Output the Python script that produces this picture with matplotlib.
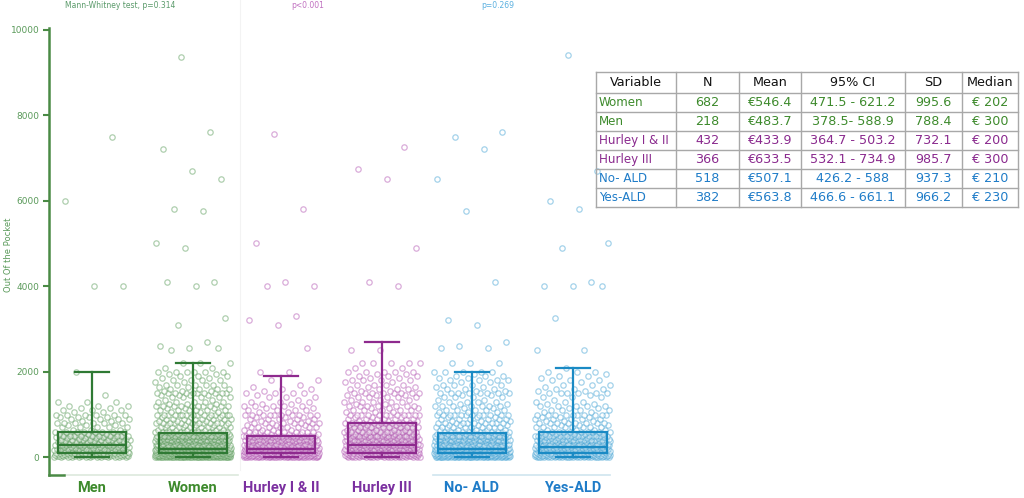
import numpy as np
import matplotlib
matplotlib.use("Agg")
import matplotlib.pyplot as plt
from matplotlib.lines import Line2D

# ---------------- data ----------------
categories = ["Men", "Women", "Hurley I & II", "Hurley III", "No- ALD", "Yes-ALD"]

# box statistics
box_q1 = [100, 100, 100, 100, 100, 100]
box_med = [300, 200, 200, 300, 200, 230]
box_q3 = [600, 570, 500, 800, 560, 600]
box_whishi = [2000, 2200, 1900, 2700, 2000, 2100]
box_whislo = [0, 0, 0, 0, 0, 0]

# value grid of the dense point clouds, with estimated counts per group
cloud_vals = [0, 10, 20, 30, 40, 50, 60, 70, 80, 90,
              100, 120, 130, 150, 170, 200, 220, 250, 280, 300,
              320, 350, 380, 400, 420, 450, 480, 500, 550, 600,
              650, 700, 750, 800, 850, 900, 950, 1000, 1050, 1100,
              1150, 1200, 1250, 1300, 1350, 1400, 1450, 1500, 1550, 1600,
              1650, 1700, 1750, 1800, 1850, 1900, 1950, 2000, 2100, 2200]

men_counts = [8, 5, 6, 5, 4, 12, 4, 4, 5, 3,
              15, 5, 3, 8, 3, 14, 3, 7, 3, 14,
              3, 5, 3, 9, 2, 4, 2, 10, 3, 8,
              3, 5, 3, 6, 2, 4, 4, 6, 2, 3,
              2, 3, 0, 3, 0, 0, 1, 0, 0, 0,
              0, 0, 0, 0, 0, 0, 0, 1, 0, 0]
women_counts = [30, 15, 20, 15, 12, 35, 12, 10, 12, 8,
                35, 12, 8, 35, 10, 50, 10, 22, 8, 30,
                8, 15, 6, 22, 5, 10, 5, 28, 8, 16,
                6, 12, 5, 12, 4, 8, 4, 15, 3, 6,
                3, 10, 3, 5, 2, 5, 4, 10, 3, 4,
                2, 6, 2, 4, 2, 3, 2, 6, 2, 3]
hurley12_counts = [20, 10, 12, 10, 8, 25, 8, 6, 8, 5,
                   25, 8, 5, 25, 6, 30, 6, 15, 5, 20,
                   5, 10, 4, 15, 3, 6, 3, 18, 5, 10,
                   4, 8, 3, 8, 3, 5, 3, 10, 2, 4,
                   2, 5, 2, 3, 1, 3, 1, 4, 1, 2,
                   1, 1, 0, 1, 0, 0, 0, 0, 0, 0]
hurley3_counts = [12, 6, 8, 6, 5, 15, 5, 5, 6, 4,
                  18, 6, 4, 16, 5, 20, 5, 12, 5, 18,
                  5, 8, 4, 15, 3, 6, 3, 16, 6, 12,
                  5, 10, 4, 12, 4, 7, 3, 12, 3, 5,
                  3, 7, 2, 5, 3, 5, 3, 8, 2, 4,
                  2, 4, 2, 4, 2, 3, 2, 5, 2, 3]
noald_counts = [24, 12, 15, 12, 8, 28, 8, 8, 10, 6,
                28, 8, 6, 28, 8, 35, 8, 18, 6, 25,
                6, 11, 5, 20, 4, 8, 4, 22, 6, 12,
                5, 10, 4, 10, 3, 6, 3, 12, 3, 5,
                2, 7, 2, 4, 2, 4, 2, 8, 2, 3,
                2, 4, 2, 4, 2, 3, 1, 5, 0, 0]
yesald_counts = [16, 8, 10, 8, 6, 20, 6, 6, 7, 5,
                 20, 6, 4, 20, 6, 24, 6, 14, 5, 20,
                 5, 8, 4, 16, 3, 6, 3, 16, 5, 10,
                 4, 8, 3, 8, 3, 5, 3, 10, 2, 4,
                 2, 5, 2, 3, 1, 3, 1, 6, 2, 3,
                 1, 3, 1, 3, 1, 2, 1, 3, 1, 0]

# individually readable high values
men_outliers = [4000, 4000, 6000, 7500]
women_outliers = [2500, 2550, 2550, 2600, 2700, 3100, 3250, 4000, 4100, 4100, 4900, 5000,
                  5750, 5800, 6500, 6700, 7200, 7600, 9350]
hurley12_outliers = [1800, 2000, 2000, 2550, 3100, 3200, 3300, 4000, 4000, 4100, 5000, 5800, 7550]
hurley3_outliers = [2200, 2200, 2500, 2500, 4000, 4100, 4900, 6500, 6750, 7250]
noald_outliers = [2200, 2200, 2200, 2550, 2550, 2600, 2700, 3100, 3200, 4100, 5750, 6500,
                  7200, 7500, 7600]
yesald_outliers = [2500, 2500, 3250, 4000, 4000, 4000, 4100, 4900, 5000, 5800, 6000, 6700, 9400]

group_counts = [men_counts, women_counts, hurley12_counts, hurley3_counts, noald_counts, yesald_counts]
group_outliers = [men_outliers, women_outliers, hurley12_outliers, hurley3_outliers,
                  noald_outliers, yesald_outliers]

p_texts = ["Mann-Whitney test, p=0.314", "p<0.001", "p=0.269"]

# summary table
table_header = ["Variable", "N", "Mean", "95% CI", "SD", "Median"]
table_variable = ["Women", "Men", "Hurley I & II", "Hurley III", "No- ALD", "Yes-ALD"]
table_n = ["682", "218", "432", "366", "518", "382"]
table_mean = ["€546.4", "€483.7", "€433.9", "€633.5", "€507.1", "€563.8"]
table_ci = ["471.5 - 621.2", "378.5- 588.9", "364.7 - 503.2", "532.1 - 734.9", "426.2 - 588", "466.6 - 661.1"]
table_sd = ["995.6", "788.4", "732.1", "985.7", "937.3", "966.2"]
table_median = ["€ 202", "€ 300", "€ 200", "€ 300", "€ 210", "€ 230"]

# ---------------- style ----------------
GREEN = "#2f7a34"
PURPLE = "#8e2a8e"
BLUE = "#1a8ac4"
box_colors = [GREEN, GREEN, PURPLE, PURPLE, BLUE, BLUE]
pt_colors = ["#5f9f5f", "#5f9f5f", "#b45ab4", "#b45ab4", "#4aa6d6", "#4aa6d6"]
label_colors = ["#3d8a2c", "#3d8a2c", "#7b30a0", "#7b30a0", "#1f7cc8", "#1f7cc8"]
table_colors = ["#3d8a2c", "#3d8a2c", "#8a2a8e", "#8a2a8e", "#1f7cc8", "#1f7cc8"]

positions = [0, 1.01, 1.89, 2.90, 3.80, 4.805]

W, H = 1024, 498
fig = plt.figure(figsize=(W / 100, H / 100), dpi=100)

ax = fig.add_axes([49 / W, 1 - 475 / H, (715 - 49) / W, (475 - 28.3) / H])
ax.set_xlim(-0.43, 6.23)
ax.set_ylim(-413, 10030)

# points with deterministic jitter
for gi in range(len(categories)):
    y = np.concatenate([np.repeat(np.array(cloud_vals, dtype=float), group_counts[gi]),
                        np.array(group_outliers[gi], dtype=float)])
    idx = np.arange(len(y))
    frac = (idx * 0.6180339887 + 0.37 * gi) % 1.0
    x = positions[gi] + (frac - 0.5) * 0.76
    ax.scatter(x, y, s=15, facecolors=(1, 1, 1, 0.0), edgecolors=pt_colors[gi],
               linewidths=0.9, alpha=0.5, zorder=2)

# boxes
for i in range(len(categories)):
    st = dict(med=box_med[i], q1=box_q1[i], q3=box_q3[i],
              whislo=box_whislo[i], whishi=box_whishi[i], fliers=[])
    c = box_colors[i]
    ax.bxp([st], positions=[positions[i]], widths=0.68, showfliers=False, patch_artist=True,
           boxprops=dict(facecolor=matplotlib.colors.to_rgba(c, 0.18), edgecolor=c, linewidth=1.6),
           medianprops=dict(color=c, linewidth=1.6),
           whiskerprops=dict(color=c, linewidth=1.6),
           capprops=dict(color=c, linewidth=1.6),
           capwidths=0.34, manage_ticks=False, zorder=3)

# spines / ticks
for s in ["top", "right", "bottom"]:
    ax.spines[s].set_visible(False)
ax.spines["left"].set_color("#4a8a45")
ax.spines["left"].set_linewidth(1.8)
ax.set_xticks([])
ax.set_yticks([0, 2000, 4000, 6000, 8000, 10000])
ax.set_yticklabels(["0", "2000", "4000", "6000", "8000", "10000"])
ax.tick_params(axis="y", colors="#4a8a45", length=4, width=1.5, labelsize=6.5, pad=3)
for t in ax.get_yticklabels():
    t.set_color("#5a9a5a")

# bottom line segments
ax.plot([-0.43, -0.285], [-413, -413], color="#4a8a45", lw=1.8, clip_on=False, zorder=4)
ax.plot([-0.285, 1.46], [-413, -413], color="#dde9dd", lw=1.2, clip_on=False, zorder=1)
ax.plot([3.41, 5.18], [-413, -413], color="#cfe5ef", lw=1.2, clip_on=False, zorder=1)

# faint vertical separator
fig.add_artist(Line2D([240 / W, 240 / W], [1 - 470 / H, 1.0], color="#f3f3f3", lw=0.8))

# y label
fig.text(9 / W, 1 - 255 / H, "Out Of the Pocket", rotation=90, ha="center", va="center",
         fontsize=6, color="#5a9a5a")

# category labels
for i, cat in enumerate(categories):
    ax.text(positions[i], -720, cat, ha="center", va="center", fontsize=10.5, fontweight="bold",
            family=["Roboto", "DejaVu Sans"], color=label_colors[i], clip_on=False)

# p-value texts
p_x = [120, 308, 498]
p_col = ["#5a9a6a", "#c070c0", "#5ab0e0"]
for txt, px, pc in zip(p_texts, p_x, p_col):
    fig.text(px / W, 1 - 6 / H, txt, ha="center", va="center", fontsize=5.5, color=pc)

# ---------------- table ----------------
col_edges = [596, 676, 739, 800.7, 905, 962.3, 1018]
row_edges = [72.3, 93.3, 112.3, 131, 150.3, 169, 188, 207.3]
tcolor = "#a8a8a8"
for xe in col_edges:
    fig.add_artist(Line2D([xe / W, xe / W], [1 - row_edges[0] / H, 1 - row_edges[-1] / H],
                          color=tcolor, lw=1.0))
for ye in row_edges:
    fig.add_artist(Line2D([col_edges[0] / W, col_edges[-1] / W], [1 - ye / H, 1 - ye / H],
                          color=tcolor, lw=1.0))

FS = 9.2
columns = [table_variable, table_n, table_mean, table_ci, table_sd, table_median]
for ci, head in enumerate(table_header):
    yc = (row_edges[0] + row_edges[1]) / 2
    xc = (col_edges[ci] + col_edges[ci + 1]) / 2
    fig.text(xc / W, 1 - yc / H, head, ha="center", va="center", fontsize=FS, color="#111111")
for ri in range(len(table_variable)):
    yc = (row_edges[ri + 1] + row_edges[ri + 2]) / 2
    for ci, col in enumerate(columns):
        if ci == 0:
            fig.text(599 / W, 1 - yc / H, col[ri], ha="left", va="center", fontsize=8.6,
                     color=table_colors[ri])
        else:
            xc = (col_edges[ci] + col_edges[ci + 1]) / 2
            fig.text(xc / W, 1 - yc / H, col[ri], ha="center", va="center", fontsize=FS,
                     color=table_colors[ri])

fig.savefig("out.png", dpi=100)
